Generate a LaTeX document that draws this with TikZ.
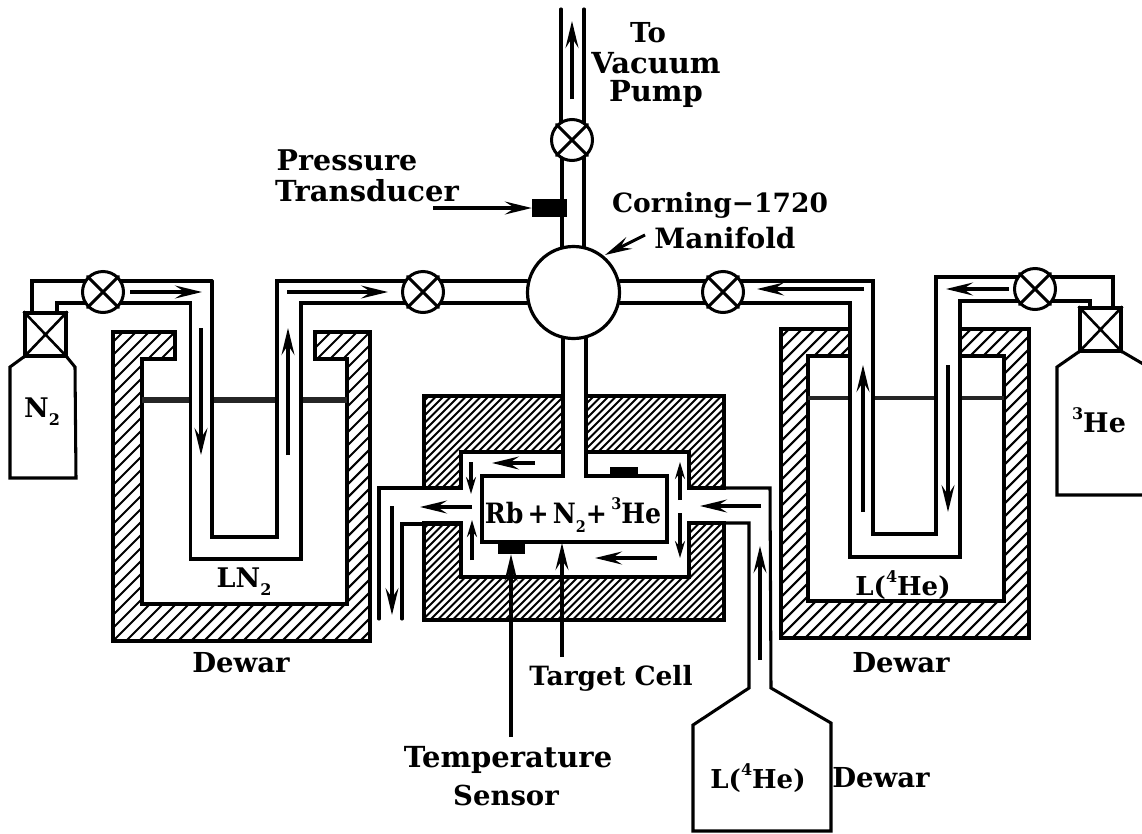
\documentclass[tikz,border=0pt]{standalone}
\usepackage{fontspec}
\setmainfont{DejaVu Serif}
\usetikzlibrary{arrows.meta}
\newcommand\subn[1]{\raisebox{-.3em}{\fontsize{16}{16}\selectfont #1}}
\newcommand\supn[1]{\raisebox{.5em}{\fontsize{16}{16}\selectfont #1}}
\tikzset{
  pipe/.style={line width=3.05pt,line cap=round,line join=miter},
  hatchline/.style={line width=2.1pt},
  flow/.style={line width=3.05pt,-{Stealth[length=27pt,width=13pt,inset=10pt]}},
  flowshort/.style={line width=3.05pt,-{Stealth[length=17pt,width=10pt,inset=6pt]}},
  valvestyle/.style={circle,draw,line width=3pt,fill=white,minimum size=41pt,inner sep=0pt},
  crossbox/.style={rectangle,draw,line width=3.2pt,fill=white,minimum width=41pt,minimum height=43pt,inner sep=0pt},
  blackbox/.style={rectangle,fill=black,inner sep=0pt},
  level/.style={line width=5.5pt,black!85},
  lab/.style={font=\fontsize{#1}{#1}\selectfont\bfseries,inner sep=0pt,align=center,text=black},
  lab/.default=27,
}
\newcommand\valvenode[2]{\node[valvestyle] (#1) at (#2) {};
  \draw[pipe] (#1.45)--(#1.225) (#1.135)--(#1.315);}
\newcommand\crossnode[2]{\node[crossbox] (#1) at (#2) {};
  \draw[line width=2.6pt] (#1.north west)--(#1.south east) (#1.north east)--(#1.south west);}
\newcommand\hatchregion[1]{\begin{scope}\clip #1;
  \foreach \k in {-800,-787,...,1100}{\draw[hatchline] (\k,800) -- (\k+800,0);}
  \end{scope}}
\newcommand\hatchfine[1]{\begin{scope}\clip #1;
  \foreach \k in {-800,-792.5,...,800}{\draw[hatchline,line width=1.9pt] (\k,800) -- (\k+800,0);}
  \end{scope}}
\begin{document}
\begin{tikzpicture}[x=1pt,y=-1pt]
\clip (0,0) rectangle (1142,833);
\fill[white] (0,0) rectangle (1142,833);

% left dewar
\def\dewarL{(113,332)--(175,332)--(175,359)--(142,359)--(142,604)--(347,604)--(347,359)--(315,359)--(315,332)--(370,332)--(370,641)--(113,641)--cycle}
\hatchregion{\dewarL}
\draw[pipe,line width=3.4pt] \dewarL;
% right dewar
\def\dewarR{(781,329)--(850,329)--(850,356)--(808,356)--(808,601)--(1004,601)--(1004,356)--(960,356)--(960,329)--(1029,329)--(1029,638)--(781,638)--cycle}
\hatchregion{\dewarR}
\draw[pipe,line width=3.4pt] \dewarR;
% oven
\def\ovenA{(424,488)--(424,396)--(563,396)--(563,452)--(461,452)--(461,488)--cycle}
\def\ovenB{(586,396)--(724,396)--(724,488)--(689,488)--(689,452)--(586,452)--cycle}
\def\ovenC{(424,523)--(461,523)--(461,577)--(689,577)--(689,523)--(724,523)--(724,620)--(424,620)--cycle}
\hatchfine{\ovenA}\hatchfine{\ovenB}\hatchfine{\ovenC}
\draw[pipe,line width=3.4pt] \ovenA \ovenB \ovenC;

% liquid levels
\draw[level] (142,400)--(190,400) (212,400)--(277,400) (301,400)--(347,400);
\draw[level,line width=4.5pt] (808,398)--(850,398) (873,398)--(936,398) (960,398)--(1004,398);

% N2 bottle and feed
\draw[pipe] (25,356)--(10,367)--(10,478)--(76,478)--(75,367)--(66,356);
\crossnode{nbox}{45.5,334.5}
\draw[pipe] (32,313)--(32,281)--(212,281);
\draw[pipe] (57,313)--(57,303)--(190.5,303)--(190.5,559)--(301,559)--(301,303)--(527,303);
\draw[pipe] (212,281)--(212,537)--(277,537)--(277,281)--(527,281);
% He3 bottle and feed
\draw[pipe] (1080,351)--(1057,367)--(1057,495)--(1150,495);
\draw[pipe] (1121,351)--(1150,368);
\crossnode{hbox}{1100.5,329.5}
\draw[pipe] (1113,308)--(1113,277)--(936,277)--(936,534)--(873,534)--(873,281)--(620,281);
\draw[pipe] (1090,308)--(1090,301)--(960,301)--(960,557)--(850,557)--(850,303)--(620,303);
% vertical pipes
\draw[pipe] (561,9)--(561,125) (584,9)--(584,125);
\draw[pipe] (562,125)--(562,250) (584,125)--(584,250);
\draw[pipe] (563,335)--(563,476)--(482,476)--(482,542)--(667,542)--(667,476)--(586,476)--(586,335);
% left exit pipe
\draw[pipe] (461,488)--(379,488)--(379,619);
\draw[pipe] (461,524)--(402,524)--(402,619);
% right entry pipe and dewar
\draw[pipe] (689,488)--(770,488)--(771,688)--(831,723)--(831,831)--(693,831)--(693,725)--(749,688)--(749,523)--(689,523);

% manifold & valves
\node[circle,draw,line width=3.2pt,fill=white,minimum size=92pt,inner sep=0pt] (manifold) at (573.5,292.5) {};
\valvenode{v1}{103,292}
\valvenode{v2}{423,292}
\valvenode{v3}{723,292}
\valvenode{v4}{1035,289}
\valvenode{v5}{572,140}

% sensors
\node[blackbox,minimum width=35pt,minimum height=18pt] (pt) at (549.5,208) {};
\node[blackbox,minimum width=27pt,minimum height=12pt] (ts) at (511,548) {};
\node[blackbox,minimum width=28pt,minimum height=9pt] (hs) at (624,471.5) {};

% flow arrows
\draw[flow] (572,99)--(572,21);
\draw[flow] (130,292)--(202,292);
\draw[flow] (201,328)--(201,455);
\draw[flow] (288,455)--(288,328);
\draw[flow] (287,292)--(388,292);
\draw[flow] (864,289)--(757,289);
\draw[flow] (1009,289)--(946,289);
\draw[flow] (863,512)--(863,365);
\draw[flow] (948,365)--(948,512);
\draw[flow] (535,463)--(492,463);
\draw[flowshort] (471,462)--(471,494);
\draw[flow] (472,507)--(420,507);
\draw[flowshort] (472,560)--(472,520);
\draw[flow] (392,506)--(392,615);
\draw[flow] (761,506)--(700,506);
\draw[flowshort] (680,500)--(680,462);
\draw[flowshort] (680,513)--(680,558);
\draw[flow] (657,558)--(595,558);
\draw[flow] (760,660)--(760,546);
% callouts
\draw[flow] (433,208)--(pt.west);
\draw[flow] (645,235)--(605,255);
\draw[flow] (511,737)--(ts.south);
\draw[flow] (562,657)--(562,543);

% labels
\node[lab=27.5] (t1) at (648,33) {To};
\node[lab=29] (t2) at (656,63) {Vacuum};
\node[lab=29] (t3) at (656,94) {Pump};
\node[lab=28.5] (t4) at (347,160) {Pressure};
\node[lab=29] (t5) at (367,191) {Transducer};
\node[lab=26.5] (t6) at (720,205) {Corning−1720};
\node[lab=28] (t7) at (725,238) {Manifold};
\node[lab=27] (t8) at (42,412) {N\subn{2}};
\node[lab=27] (t9) at (244,582) {LN\subn{2}};
\node[lab=27.5] (t10) at (241,663) {Dewar};
\node[lab=27.5] (t11) at (901,663) {Dewar};
\node[lab=27.5] (t12) at (881,778) {Dewar};
\node[lab=26] (t13) at (758,778) {L(\supn{4}He)};
\node[lab=26] (t14) at (903,585) {L(\supn{4}He)};
\node[lab=27] (t15) at (1099,420) {\supn{3}He};
\node[lab=28] (t16) at (573,515) {\scalebox{.9}[1]{Rb\,+\,N\subn{2}+\,\supn{3}He}};
\node[lab=26.5] (t17) at (611,678) {Target Cell};
\node[lab=29] (t18) at (508,760) {Temperature};
\node[lab=27.5] (t19) at (506,795) {Sensor};
\end{tikzpicture}
\end{document}
